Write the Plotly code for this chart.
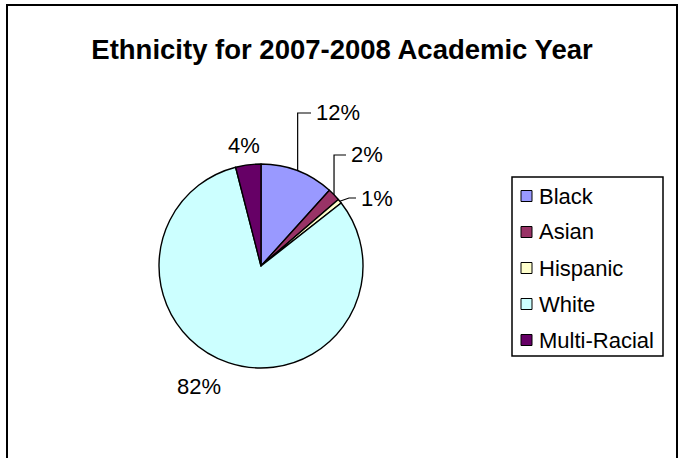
import math
import plotly.graph_objects as go

# ---- data ----
categories = ["Black", "Asian", "Hispanic", "White", "Multi-Racial"]
shares = [11.7, 2.0, 0.7, 81.6, 4.0]
colors = ["#9999FF", "#993366", "#FFFFCC", "#CCFFFF", "#660066"]
title_text = "Ethnicity for 2007-2008 Academic Year"

# ---- layout constants (pixels) ----
W, H = 684, 458
CX, CY, R = 261, 266, 102
FONT = "Arial, Liberation Sans, sans-serif"


def px(x):
    return x / W


def py(y):
    return 1 - y / H


total = sum(shares)
pct_text = [f"{round(v / total * 100)}%" for v in shares]

# label placement (pixel positions of label text, styling only)
label_pos = {
    "Black": (314, 113, "left"),
    "Asian": (349, 155, "left"),
    "Hispanic": (359, 198, "left"),
    "White": (199, 386, "center"),
    "Multi-Racial": (244, 145, "center"),
}
leader = {"Black": "elbow", "Asian": "elbow", "Hispanic": "diag"}

fig = go.Figure(
    go.Pie(
        labels=categories,
        values=shares,
        sort=False,
        direction="clockwise",
        rotation=0,
        marker=dict(colors=colors, line=dict(color="black", width=1.4)),
        textinfo="none",
        showlegend=False,
        domain=dict(x=[px(CX - R), px(CX + R)], y=[py(CY + R), py(CY - R)]),
    )
)

shapes = []
annotations = []

# outer chart frame
shapes.append(dict(type="rect", xref="paper", yref="paper",
                   x0=px(7), x1=px(677), y0=py(5), y1=-0.2,
                   line=dict(color="black", width=2), fillcolor="rgba(0,0,0,0)"))

# percentage labels with leader lines
cum = 0.0
for cat, v, t in zip(categories, shares, pct_text):
    mid = (cum + v / 2) / total * 2 * math.pi
    cum += v
    sx = CX + R * math.sin(mid)
    sy = CY - R * math.cos(mid)
    lx, ly, anchor = label_pos[cat]
    annotations.append(dict(text=t, x=px(lx), y=py(ly), xref="paper", yref="paper",
                            xanchor=anchor, yanchor="middle", showarrow=False,
                            font=dict(family=FONT, size=22, color="black")))
    kind = leader.get(cat)
    if kind == "elbow":
        path = f"M {px(sx)},{py(sy)} L {px(sx)},{py(ly)} L {px(lx - 3)},{py(ly)}"
    elif kind == "diag":
        path = f"M {px(sx)},{py(sy)} L {px(lx - 10)},{py(ly)} L {px(lx - 3)},{py(ly)}"
    else:
        continue
    shapes.append(dict(type="path", xref="paper", yref="paper", path=path,
                       line=dict(color="black", width=1.2)))

# legend (manual, Excel style)
LX0, LX1, LY0, LY1 = 512, 663, 177, 356
shapes.append(dict(type="rect", xref="paper", yref="paper",
                   x0=px(LX0), x1=px(LX1), y0=py(LY0), y1=py(LY1),
                   line=dict(color="black", width=1.5), fillcolor="white"))
for i, (cat, col) in enumerate(zip(categories, colors)):
    yc = 196 + 36 * i
    shapes.append(dict(type="rect", xref="paper", yref="paper",
                       x0=px(521), x1=px(532), y0=py(yc + 5.5), y1=py(yc - 5.5),
                       line=dict(color="black", width=1), fillcolor=col))
    annotations.append(dict(text=cat, x=px(537), y=py(yc), xref="paper", yref="paper",
                            xanchor="left", yanchor="middle", showarrow=False,
                            font=dict(family=FONT, size=22, color="black")))

fig.update_layout(
    width=W, height=H,
    margin=dict(l=0, r=0, t=0, b=0),
    paper_bgcolor="white",
    plot_bgcolor="white",
    title=dict(text=f"<b>{title_text}</b>", x=0.5, xanchor="center",
               y=py(49), yanchor="middle",
               font=dict(family=FONT, size=27.5, color="black")),
    shapes=shapes,
    annotations=annotations,
)

fig.write_html(
    "out.html",
    config={"displayModeBar": False},
    post_script="document.body.style.margin='0';document.body.style.overflow='hidden';",
)
